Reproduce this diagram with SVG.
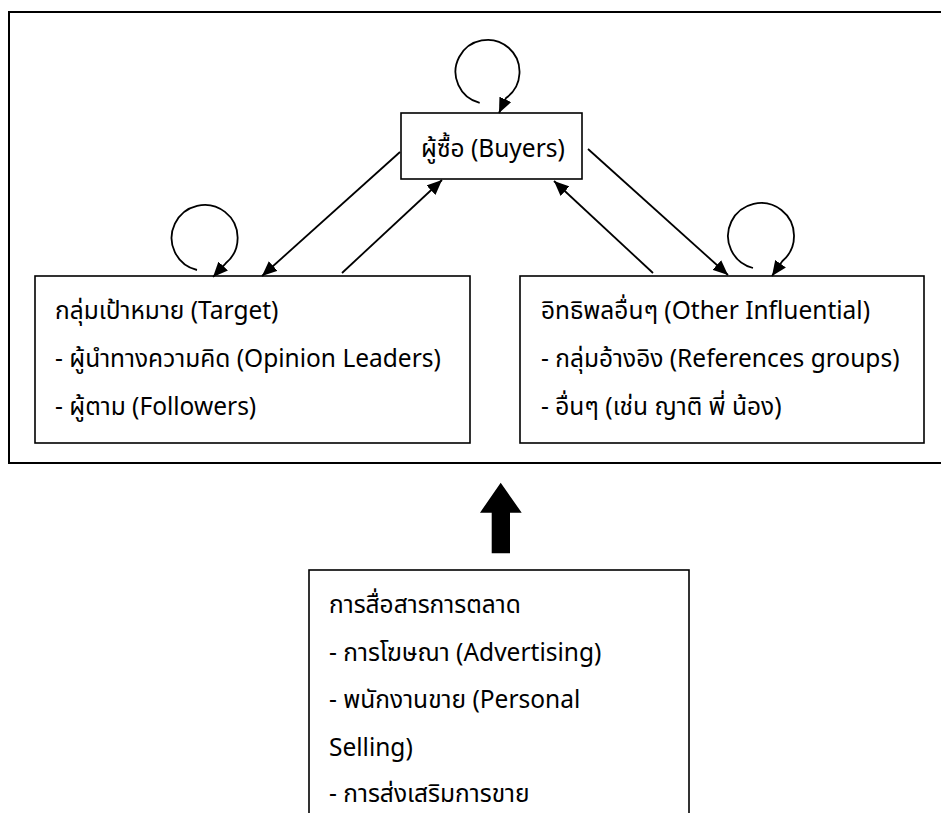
<svg xmlns="http://www.w3.org/2000/svg" width="941" height="813" viewBox="0 0 941 813">
<style>
.box{fill:#fff;stroke:#000;stroke-width:1.6}
.frame{fill:none;stroke:#000;stroke-width:2}
.t{font-family:"Noto Sans Thai","Noto Sans","Liberation Sans",sans-serif;font-size:24.5px;fill:#000}
.c{fill:none;stroke:#000;stroke-width:1.8}
</style>
<defs>
<marker id="ah" markerUnits="userSpaceOnUse" markerWidth="15" markerHeight="13" refX="15" refY="6.5" orient="auto">
<path d="M0,0 L15,6.5 L0,13 z" fill="#000"/>
</marker>
</defs>
<rect width="941" height="813" fill="#fff"/>
<rect id="frame" class="frame" x="9" y="12" width="960" height="451"/>
<g id="buyers">
<rect class="box" x="401" y="113" width="181" height="66"/>
<text class="t" x="421" y="157">ผู้ซื้อ (Buyers)</text>
</g>
<g id="target">
<rect class="box" x="35" y="276" width="435" height="167"/>
<text class="t" x="55" y="319">กลุ่มเป้าหมาย (Target)</text>
<text class="t" x="55" y="367">- ผู้นำทางความคิด (Opinion Leaders)</text>
<text class="t" x="55" y="415">- ผู้ตาม (Followers)</text>
</g>
<g id="influential">
<rect class="box" x="520" y="276" width="404" height="167"/>
<text class="t" x="541" y="319">อิทธิพลอื่นๆ (Other Influential)</text>
<text class="t" x="541" y="367">- กลุ่มอ้างอิง (References groups)</text>
<text class="t" x="541" y="415">- อื่นๆ (เช่น ญาติ พี่ น้อง)</text>
</g>
<g id="marketing">
<rect class="box" x="309" y="570" width="380" height="270"/>
<text class="t" x="329" y="613">การสื่อสารการตลาด</text>
<text class="t" x="329" y="661">- การโฆษณา (Advertising)</text>
<text class="t" x="329" y="708">- พนักงานขาย (Personal</text>
<text class="t" x="329" y="756">Selling)</text>
<text class="t" x="329" y="802">- การส่งเสริมการขาย</text>
</g>
<g id="connectors">
<path class="c" d="M400 152 L262 276" marker-end="url(#ah)"/>
<path class="c" d="M342 273 L442 180" marker-end="url(#ah)"/>
<path class="c" d="M588 149 L728 275" marker-end="url(#ah)"/>
<path class="c" d="M653 273 L554 181" marker-end="url(#ah)"/>
<path class="c" d="M479.7 102.9 A32 32 0 1 1 506 98 L499 113" marker-end="url(#ah)"/>
<path class="c" d="M197 270 A33 33 0 1 1 225.7 263.3 L213 277" marker-end="url(#ah)"/>
<path class="c" d="M753 268 A33 33 0 1 1 782.2 261.3 L772 276" marker-end="url(#ah)"/>
<path d="M500.7 482.7 L521.7 512.7 L510 512.7 L510 553.3 L491.7 553.3 L491.7 512.7 L480 512.7 z" fill="#000"/>
</g>
</svg>
